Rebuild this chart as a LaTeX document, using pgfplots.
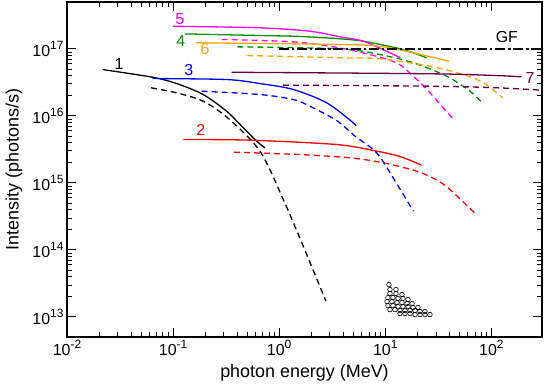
\documentclass[border=0pt]{standalone}
\usepackage{fontspec}
\setmainfont{Liberation Sans}
\usepackage{pgfplots}
\pgfplotsset{compat=1.18}

\definecolor{cmag}{RGB}{255,0,255}
\definecolor{cgreen}{RGB}{0,140,0}
\definecolor{corange}{RGB}{255,165,0}
\definecolor{cpurple}{RGB}{102,0,68}

\newcommand{\tl}[1]{10\raisebox{0.42em}{\fontsize{12}{12}\selectfont #1}}

\begin{document}
\begin{tikzpicture}
\useasboundingbox (-67bp,-47bp) rectangle (478bp,337bp);
\begin{axis}[
    at={(0,0)}, anchor=south west,
    scale only axis,
    width=475bp, height=335bp,
    xmode=log, ymode=log,
    xmin=0.01, xmax=300,
    ymin=5e12, ymax=5e17,
    axis line style={line width=1.1bp},
    tick align=inside,
    major tick length=9bp,
    minor tick length=5bp,
    every tick/.style={black, line width=0.7bp},
    xtick={0.01,0.1,1,10,100},
    xticklabels={\tl{-2},\tl{-1},\tl{0},\tl{1},\tl{2}},
    ytick={1e13,1e14,1e15,1e16,1e17},
    yticklabels={\tl{13},\tl{14},\tl{15},\tl{16},\tl{17}},
    ticklabel style={font=\fontsize{16}{18}\selectfont},
    xlabel={photon energy (MeV)},
    ylabel={Intensity (photons/s)},
    label style={font=\fontsize{18}{20}\selectfont},
    xlabel style={at={(axis description cs:0.5,0)}, anchor=center, yshift=-36bp},
    ylabel style={at={(axis description cs:-0.1116,0.5)}, anchor=center},
    every axis plot/.append style={smooth, tension=0.5},
    clip=true,
]

% 1
\addplot[black, line width=1.3bp] coordinates {
    (0.0217,4.9e16) (0.0637,3.77e16) (0.108,3.03e16) (0.192,2.08e16)
    (0.32,1.17e16) (0.459,6.62e15) (0.614,4.18e15) (0.734,3.33e15)
};
\addplot[black, line width=1.3bp, dash pattern=on 6bp off 4bp] coordinates {
    (0.0619,2.62e16) (0.108,2.2e16) (0.192,1.65e16) (0.33,9.2e15)
    (0.659,2.97e15) (1.093,5.64e14) (1.687,1.13e14) (2.76,1.71e13)
};

% 2
\addplot[red, line width=1.3bp] coordinates {
    (0.125,4.43e15) (0.531,4.33e15) (3.48,3.73e15) (8.3,2.97e15)
    (13.8,2.47e15) (22.0,1.83e15)
};
\addplot[red, line width=1.3bp, dash pattern=on 6bp off 4bp] coordinates {
    (0.375,2.87e15) (1.57,2.64e15) (4.65,2.36e15) (9.57,1.99e15)
    (19.8,1.49e15) (30,1.12e15) (40.7,7.94e14) (70,3.49e14)
};

% 3
\addplot[blue, line width=1.3bp] coordinates {
    (0.0643,3.6e16) (0.32,3.48e16) (0.659,3.03e16) (1.36,2.47e16)
    (2.81,1.56e16) (4.99,7.87e15) (5.18,7.16e15)
};
\addplot[blue, line width=1.3bp, dash pattern=on 6bp off 4bp] coordinates {
    (0.186,2.33e16) (0.659,2.08e16) (1.36,1.75e16) (1.95,1.39e16)
    (3.48,8.5e15) (5.18,4.97e15) (8.3,2.8e15) (12.3,1.08e15) (18.4,3.77e14)
};

% 4
\addplot[cgreen, line width=1.3bp] coordinates {
    (0.129,1.67e17) (0.659,1.58e17) (1.57,1.53e17) (3.74,1.41e17)
    (6.2,1.3e17) (12.8,1.03e17) (18,8.8e16) (24.5,7.35e16)
};
\addplot[cgreen, line width=1.3bp, dash pattern=on 6bp off 4bp] coordinates {
    (0.403,1.07e17) (3.74,1.0e17) (8.9,8.2e16) (18.4,6.18e16)
    (37.9,3.9e16) (62.8,2.33e16) (82.8,1.53e16)
};

% 5
\addplot[cmag, line width=1.3bp] coordinates {
    (0.1,2.17e17) (0.659,2.06e17) (1.95,1.83e17) (3.74,1.51e17)
    (6.2,1.3e17) (11.1,8.7e16) (13.8,7.35e16)
};
\addplot[cmag, line width=1.3bp, dash pattern=on 6bp off 4bp] coordinates {
    (0.287,1.38e17) (1.36,1.27e17) (3.74,1.03e17) (7.18,8.2e16)
    (12.8,6.18e16) (18.4,3.9e16) (26.4,2.2e16) (35.2,1.31e16) (44.4,8.8e15)
};

% 6
\addplot[corange, line width=1.3bp] coordinates {
    (0.164,1.23e17) (3.74,1.16e17) (8.9,1.09e17) (18.4,8.7e16) (40.1,6.53e16)
};
\addplot[corange, line width=1.3bp, dash pattern=on 6bp off 4bp] coordinates {
    (0.5,7.94e16) (3.74,7.35e16) (8.9,7.1e16) (26.4,5.5e16)
    (54.3,4.13e16) (83.9,3.11e16) (128,1.86e16)
};

% 7
\addplot[cpurple, line width=1.3bp] coordinates {
    (0.356,4.47e16) (26.4,4.24e16) (112,3.99e16) (193,3.82e16)
};
\addplot[cpurple, line width=1.3bp, dash pattern=on 6bp off 4bp] coordinates {
    (1.09,2.87e16) (26.4,2.77e16) (112,2.62e16) (300,2.41e16)
};

% GF
\addplot[black, line width=1.6bp, dash pattern=on 10bp off 3bp on 2bp off 3bp] coordinates {
    (1,1e17) (300,1e17)
};

% measured points
\addplot[only marks, mark=o, mark size=2.3bp, black, mark options={line width=0.6bp}] coordinates {
    (10.83,3.03e13)
    (11.07,2.55e13) (12.61,2.55e13)
    (11.07,2.23e13) (12.61,2.23e13) (14.37,2.15e13)
    (10.59,1.94e13) (11.82,1.94e13) (13.18,1.88e13) (14.68,1.88e13) (16.38,1.81e13)
    (10.38,1.69e13) (11.56,1.69e13) (12.89,1.63e13) (14.37,1.63e13) (16.03,1.58e13) (17.88,1.58e13)
    (10.59,1.47e13) (11.82,1.47e13) (13.18,1.42e13) (14.68,1.42e13) (16.38,1.42e13) (18.25,1.38e13) (20.33,1.38e13)
    (11.07,1.28e13) (12.34,1.28e13) (13.76,1.24e13) (15.35,1.24e13) (17.11,1.24e13) (19.07,1.24e13) (21.25,1.2e13) (23.66,1.2e13)
    (13.76,1.12e13) (15.35,1.12e13) (17.11,1.12e13) (19.07,1.08e13) (21.25,1.08e13) (23.66,1.08e13) (26.36,1.08e13)
};

\begin{scope}[font=\fontsize{16}{18}\selectfont]
\node[cmag] at (axis cs:0.116,2.74e17) {5};
\node[cgreen] at (axis cs:0.118,1.29e17) {4};
\node[corange] at (axis cs:0.2,9.8e16) {6};
\node[black] at (axis cs:0.031,6.0e16) {1};
\node[blue] at (axis cs:0.141,4.9e16) {3};
\node[red] at (axis cs:0.183,6.25e15) {2};
\node[black] at (axis cs:140,1.48e17) {GF};
\node[cpurple] at (axis cs:231,3.72e16) {7};
\end{scope}

\end{axis}
\end{tikzpicture}
\end{document}
